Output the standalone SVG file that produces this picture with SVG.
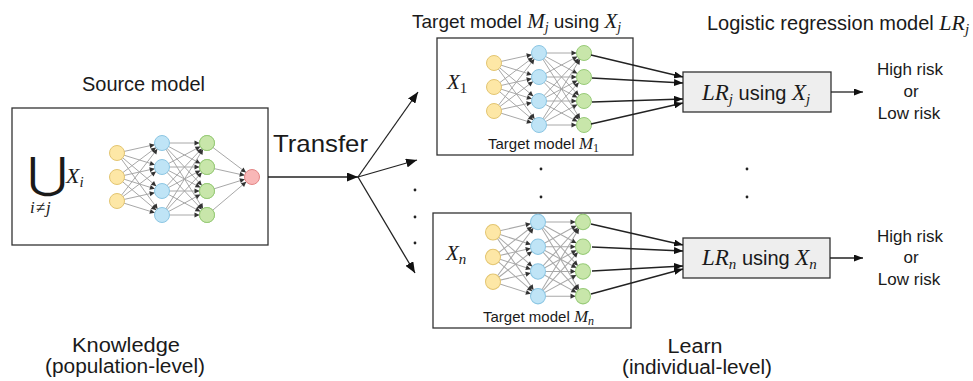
<svg xmlns="http://www.w3.org/2000/svg" xmlns:xlink="http://www.w3.org/1999/xlink" width="973" height="381" viewBox="0 0 973 381">
<style>
.t{font-family:"Liberation Sans",Arial,sans-serif;fill:#1a1a1a}
.m{font-family:"Liberation Serif","Times New Roman",serif;font-style:italic;fill:#1a1a1a}
.r{font-family:"Liberation Serif","Times New Roman",serif;font-style:normal}
.box{fill:#fff;stroke:#333;stroke-width:1.3}
.lr{fill:#eeeeee;stroke:#333;stroke-width:1.3}
.e{stroke:#a8a8a8;stroke-width:1;marker-end:url(#nh)}
.c{stroke:#222;stroke-width:1.3;fill:none}
.ya{fill:#fde7a6;stroke:#e3c571;stroke-width:1}
.bl{fill:#bfe4f6;stroke:#8cc6e3;stroke-width:1}
.gr{fill:#c8e6aa;stroke:#98cb78;stroke-width:1}
.rd{fill:#f9b7b7;stroke:#e38585;stroke-width:1}
.dot{fill:#222}
</style>
<defs>
<marker id="nh" markerUnits="userSpaceOnUse" markerWidth="5" markerHeight="5" viewBox="0 0 5 5" refX="12.5" refY="2.5" orient="auto" overflow="visible"><path d="M0,0 L5,2.5 L0,5 z" fill="#333"/></marker>
<marker id="ah" markerUnits="userSpaceOnUse" markerWidth="11" markerHeight="9" viewBox="0 0 11 9" refX="11" refY="4.5" orient="auto"><path d="M0,0 L11,4.5 L0,9 z" fill="#111"/></marker>
<marker id="as" markerUnits="userSpaceOnUse" markerWidth="9" markerHeight="7" viewBox="0 0 9 7" refX="9" refY="3.5" orient="auto"><path d="M0,0 L9,3.5 L0,7 z" fill="#111"/></marker>
<g id="net">
<line class="e" x1="-45" y1="10" x2="0" y2="0"/><line class="e" x1="-45" y1="10" x2="0" y2="24"/><line class="e" x1="-45" y1="10" x2="0" y2="48"/><line class="e" x1="-45" y1="10" x2="0" y2="72"/>
<line class="e" x1="-45" y1="34" x2="0" y2="0"/><line class="e" x1="-45" y1="34" x2="0" y2="24"/><line class="e" x1="-45" y1="34" x2="0" y2="48"/><line class="e" x1="-45" y1="34" x2="0" y2="72"/>
<line class="e" x1="-45" y1="58" x2="0" y2="0"/><line class="e" x1="-45" y1="58" x2="0" y2="24"/><line class="e" x1="-45" y1="58" x2="0" y2="48"/><line class="e" x1="-45" y1="58" x2="0" y2="72"/>
<line class="e" x1="0" y1="0" x2="45" y2="0"/><line class="e" x1="0" y1="0" x2="45" y2="24"/><line class="e" x1="0" y1="0" x2="45" y2="48"/><line class="e" x1="0" y1="0" x2="45" y2="72"/>
<line class="e" x1="0" y1="24" x2="45" y2="0"/><line class="e" x1="0" y1="24" x2="45" y2="24"/><line class="e" x1="0" y1="24" x2="45" y2="48"/><line class="e" x1="0" y1="24" x2="45" y2="72"/>
<line class="e" x1="0" y1="48" x2="45" y2="0"/><line class="e" x1="0" y1="48" x2="45" y2="24"/><line class="e" x1="0" y1="48" x2="45" y2="48"/><line class="e" x1="0" y1="48" x2="45" y2="72"/>
<line class="e" x1="0" y1="72" x2="45" y2="0"/><line class="e" x1="0" y1="72" x2="45" y2="24"/><line class="e" x1="0" y1="72" x2="45" y2="48"/><line class="e" x1="0" y1="72" x2="45" y2="72"/>
<circle class="ya" cx="-45" cy="10" r="7.5"/><circle class="ya" cx="-45" cy="34" r="7.5"/><circle class="ya" cx="-45" cy="58" r="7.5"/>
<circle class="bl" cx="0" cy="0" r="7.5"/><circle class="bl" cx="0" cy="24" r="7.5"/><circle class="bl" cx="0" cy="48" r="7.5"/><circle class="bl" cx="0" cy="72" r="7.5"/>
<circle class="gr" cx="45" cy="0" r="7.5"/><circle class="gr" cx="45" cy="24" r="7.5"/><circle class="gr" cx="45" cy="48" r="7.5"/><circle class="gr" cx="45" cy="72" r="7.5"/>
</g>
</defs>

<text class="t" x="82" y="91" font-size="20" textLength="123" lengthAdjust="spacingAndGlyphs">Source model</text>
<text class="t" x="273" y="152" font-size="24" textLength="95" lengthAdjust="spacingAndGlyphs">Transfer</text>
<text class="t" x="412" y="28" font-size="19">Target model <tspan class="m" font-size="21">M</tspan><tspan class="m" font-size="14" dy="4">j</tspan><tspan dy="-4"> using </tspan><tspan class="m" font-size="21">X</tspan><tspan class="m" font-size="14" dy="4">j</tspan></text>
<text class="t" x="707" y="30" font-size="20">Logistic regression model <tspan class="m" font-size="22">LR</tspan><tspan class="m" font-size="15" dy="4">j</tspan></text>
<text class="t" x="126" y="352" font-size="20" text-anchor="middle" textLength="108" lengthAdjust="spacingAndGlyphs">Knowledge</text>
<text class="t" x="125" y="373" font-size="20" text-anchor="middle" textLength="160" lengthAdjust="spacingAndGlyphs">(population-level)</text>
<text class="t" x="695" y="353" font-size="20" text-anchor="middle" textLength="55" lengthAdjust="spacingAndGlyphs">Learn</text>
<text class="t" x="697" y="374" font-size="20" text-anchor="middle" textLength="150" lengthAdjust="spacingAndGlyphs">(individual-level)</text>

<g id="source">
<rect class="box" x="12" y="108" width="256" height="137"/>
<use xlink:href="#net" href="#net" transform="translate(162,143)"/>
<g transform="translate(162,143)">
<line class="e" x1="45" y1="0" x2="90" y2="34"/><line class="e" x1="45" y1="24" x2="90" y2="34"/><line class="e" x1="45" y1="48" x2="90" y2="34"/><line class="e" x1="45" y1="72" x2="90" y2="34"/>
<circle class="gr" cx="45" cy="0" r="7.5"/><circle class="gr" cx="45" cy="24" r="7.5"/><circle class="gr" cx="45" cy="48" r="7.5"/><circle class="gr" cx="45" cy="72" r="7.5"/>
<circle class="rd" cx="90" cy="34" r="7.5"/>
</g>
<text transform="translate(27.5,188) scale(1.13,1)" font-size="43" style="font-family:'DejaVu Serif','DejaVu Sans',serif;fill:#1a1a1a">⋃</text>
<text class="m" x="66" y="183" font-size="22">X<tspan font-size="15" dy="4">i</tspan></text>
<text class="m" x="30" y="213" font-size="17" letter-spacing="1">i<tspan class="r">≠</tspan>j</text>
</g>

<g id="target1">
<rect class="box" x="437" y="38" width="196" height="117"/>
<use xlink:href="#net" href="#net" transform="translate(539,53)"/>
<text class="m" x="447" y="89" font-size="21">X<tspan class="r" font-size="15" dy="4">1</tspan></text>
<text class="t" x="488" y="149" font-size="15">Target model <tspan class="m" font-size="17">M</tspan><tspan class="r" font-size="12" dy="3">1</tspan></text>
</g>

<g id="target2">
<rect class="box" x="433" y="213" width="198" height="115"/>
<use xlink:href="#net" href="#net" transform="translate(538,222) scale(1,1.03)"/>
<text class="m" x="446" y="260" font-size="21">X<tspan font-size="15" dy="4">n</tspan></text>
<text class="t" x="483" y="322" font-size="15">Target model <tspan class="m" font-size="17">M</tspan><tspan class="m" font-size="12" dy="3">n</tspan></text>
</g>

<g id="lr1">
<rect class="lr" x="683" y="72" width="148" height="40"/>
<text class="m" x="702" y="100" font-size="23">LR<tspan font-size="15" dy="4">j</tspan><tspan class="t" font-style="normal" font-size="20" dy="-4"> using </tspan>X<tspan font-size="15" dy="4">j</tspan></text>
</g>

<g id="lr2">
<rect class="lr" x="683" y="238" width="147" height="40"/>
<text class="m" x="702" y="265" font-size="23">LR<tspan font-size="15" dy="4">n</tspan><tspan class="t" font-style="normal" font-size="20" dy="-4"> using </tspan>X<tspan font-size="15" dy="4">n</tspan></text>
</g>

<g id="out1">
<text class="t" x="910" y="75" font-size="17" text-anchor="middle">High risk</text>
<text class="t" x="911" y="97" font-size="17" text-anchor="middle">or</text>
<text class="t" x="909" y="119" font-size="17" text-anchor="middle">Low risk</text>
</g>
<g id="out2">
<text class="t" x="910" y="242" font-size="17" text-anchor="middle">High risk</text>
<text class="t" x="911" y="263" font-size="17" text-anchor="middle">or</text>
<text class="t" x="909" y="285" font-size="17" text-anchor="middle">Low risk</text>
</g>

<g id="connectors">
<line class="c" x1="268" y1="177" x2="358" y2="177" marker-end="url(#ah)"/>
<line class="c" x1="358" y1="177" x2="418" y2="92" marker-end="url(#ah)"/>
<line class="c" x1="358" y1="177" x2="417" y2="160" marker-end="url(#ah)"/>
<line class="c" x1="358" y1="177" x2="415" y2="273" marker-end="url(#ah)"/>
<line class="c" x1="591" y1="55" x2="683" y2="77" marker-end="url(#as)"/>
<line class="c" x1="592" y1="78" x2="683" y2="83" marker-end="url(#as)"/>
<line class="c" x1="592" y1="102" x2="683" y2="99" marker-end="url(#as)"/>
<line class="c" x1="591" y1="124" x2="683" y2="103" marker-end="url(#as)"/>
<line class="c" x1="591" y1="224" x2="683" y2="245" marker-end="url(#as)"/>
<line class="c" x1="592" y1="247" x2="683" y2="251" marker-end="url(#as)"/>
<line class="c" x1="592" y1="271" x2="683" y2="266" marker-end="url(#as)"/>
<line class="c" x1="591" y1="294" x2="683" y2="269" marker-end="url(#as)"/>
<line class="c" x1="831" y1="92" x2="863" y2="92" marker-end="url(#as)"/>
<line class="c" x1="830" y1="258" x2="863" y2="258" marker-end="url(#as)"/>
</g>

<g id="ellipsis">
<circle class="dot" cx="415" cy="190" r="1.4"/><circle class="dot" cx="415" cy="217" r="1.4"/><circle class="dot" cx="415" cy="243" r="1.4"/>
<circle class="dot" cx="541" cy="169" r="1.4"/><circle class="dot" cx="541" cy="197" r="1.4"/>
<circle class="dot" cx="747" cy="169" r="1.4"/><circle class="dot" cx="747" cy="197" r="1.4"/>
</g>
</svg>
